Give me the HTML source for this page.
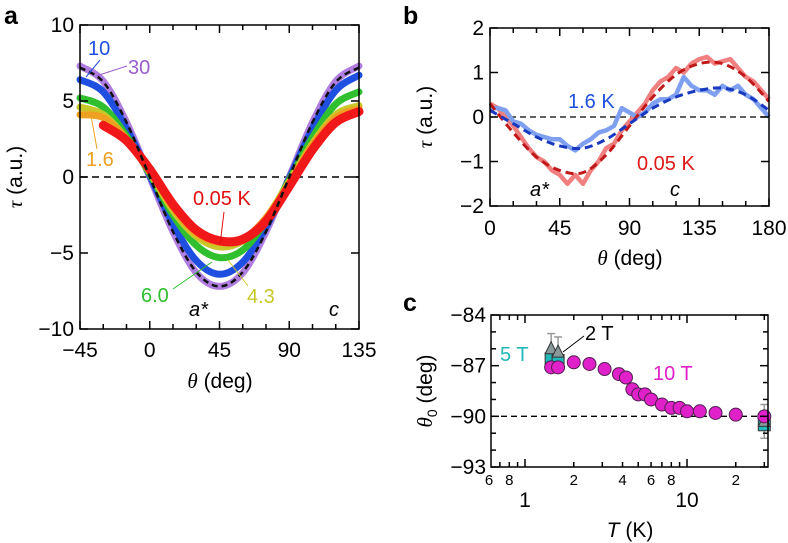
<!DOCTYPE html>
<html><head><meta charset="utf-8">
<style>
html,body{margin:0;padding:0;background:#fff;}
svg{display:block;font-family:"Liberation Sans",Arial,sans-serif;}
</style></head>
<body>
<svg id="fig" width="788" height="543" viewBox="0 0 788 543" xmlns="http://www.w3.org/2000/svg">
<g id="pa"></g>
<g id="pb"></g>
<g id="pc"></g>
</svg>
<script>
// ---------- Panel a data ----------
const aAngles = [-45,-30,-15,0,15,30,45,60,75,90,105,120,135];
const a30K  = [7.3,6.3,3.6,0,-3.6,-6.3,-7.2,-6.3,-3.6,0,3.6,6.3,7.3];
const a10K  = [6.4,5.6,3.2,0.1,-3.1,-5.5,-6.4,-5.6,-3.3,-0.1,3.2,5.7,6.7];
const a6K   = [5.2,4.6,2.7,0.2,-2.5,-4.5,-5.3,-4.8,-2.9,-0.2,2.6,4.8,5.6];
const a43K  = [4.6,4.1,2.5,0.3,-2.2,-3.9,-4.6,-4.2,-2.7,-0.3,2.2,4.1,4.7];
const a16K  = [4.1,3.9,2.5,0.4,-2.0,-3.7,-4.3,-4.1,-2.7,-0.4,2.1,3.9,4.5];
const a005K = [null,3.4,2.4,0.5,-1.8,-3.5,-4.2,-4.1,-2.9,-0.6,1.8,3.6,4.3];
const aFit  = [7.2,6.25,3.6,0,-3.6,-6.25,-7.2,-6.25,-3.6,0,3.6,6.25,7.2];
const aYTicks = [10,5,0,-5,-10];
const aYLabels = ["10","5","0","\u22125","\u221210"];
const aXTicks = [-45,0,45,90,135];
const aXLabels = ["\u221245","0","45","90","135"];
// ---------- Panel b data ----------
const bAngles = [0,5,10,15,20,25,30,35,40,45,50,55,60,65,70,75,80,85,90,95,100,105,110,115,120,125,130,135,140,145,150,155,160,165,170,175,180];
const bRed  = [0.3,0.2,0.0,-0.2,-0.45,-0.7,-0.9,-1.0,-1.2,-1.3,-1.5,-1.3,-1.5,-1.2,-1.0,-0.7,-0.6,-0.3,-0.1,0.1,0.3,0.6,0.8,0.9,1.1,1.0,1.2,1.3,1.35,1.2,1.25,1.3,1.1,0.9,0.8,0.6,0.4];
const bBlue = [0.2,0.2,0.15,-0.1,-0.15,-0.3,-0.4,-0.45,-0.5,-0.5,-0.65,-0.75,-0.6,-0.5,-0.35,-0.3,-0.2,0.2,0.1,0.0,0.1,0.3,0.4,0.4,0.5,0.9,0.7,0.6,0.6,0.5,0.7,0.6,0.7,0.5,0.4,0.2,0.0];
const bFitAngles = [0,15,30,45,60,75,90,105,120,135,150,165,180];
const bRedFit  = [0.3,-0.35,-0.9,-1.2,-1.25,-0.85,-0.2,0.45,0.95,1.2,1.2,0.9,0.35];
const bBlueFit = [0.15,-0.15,-0.45,-0.65,-0.7,-0.5,-0.15,0.2,0.45,0.6,0.65,0.5,0.15];
const bYTicks = [2,1,0,-1,-2];
const bYLabels = ["2","1","0","\u22121","\u22122"];
const bXTicks = [0,45,90,135,180];
const bXLabels = ["0","45","90","135","180"];
// ---------- Panel c data ----------
const c10T_T = [1.45,1.6,2.0,2.5,3.1,3.8,4.2,4.6,5.0,5.5,6.0,7.0,8.0,9.0,10,12,15,20,30];
const c10T_th = [-87.1,-87.1,-86.8,-86.9,-87.2,-87.5,-87.7,-88.4,-88.7,-88.7,-89.0,-89.3,-89.5,-89.5,-89.7,-89.7,-89.8,-89.9,-90.0];
const c5T_T = [1.45,1.6,30];
const c5T_th = [-86.6,-86.7,-90.5];
const c2T_T = [1.45,1.6,30];
const c2T_th = [-86.0,-86.2,-90.3];
const c2T_err = [0.9,0.9,1.0];
const cYTicks = [-84,-87,-90,-93];
const cYLabels = ["\u221284","\u221287","\u221290","\u221293"];

const NS = "http://www.w3.org/2000/svg";
function mk(parent, tag, attrs){
  const e = document.createElementNS(NS, tag);
  for (const k in attrs) e.setAttribute(k, attrs[k]);
  parent.appendChild(e); return e;
}
function lin(d0,d1,r0,r1){ return v => r0 + (v-d0)*(r1-r0)/(d1-d0); }
function smooth(pts){
  if (pts.length<2) return "";
  let d = "M"+pts[0][0].toFixed(1)+","+pts[0][1].toFixed(1);
  for (let i=0;i<pts.length-1;i++){
    const p0=pts[Math.max(0,i-1)], p1=pts[i], p2=pts[i+1], p3=pts[Math.min(pts.length-1,i+2)];
    const c1=[p1[0]+(p2[0]-p0[0])/6, p1[1]+(p2[1]-p0[1])/6];
    const c2=[p2[0]-(p3[0]-p1[0])/6, p2[1]-(p3[1]-p1[1])/6];
    d += "C"+c1.map(v=>v.toFixed(1))+" "+c2.map(v=>v.toFixed(1))+" "+p2[0].toFixed(1)+","+p2[1].toFixed(1);
  }
  return d;
}
function pts(xs, ys, X, Y){ const r=[]; xs.forEach((x,i)=>{ if(ys[i]!==null) r.push([X(x),Y(ys[i])]); }); return r; }
function txt(g, x, y, s, opts){
  const t = mk(g,"text",Object.assign({x:x,y:y,"font-size":21,fill:"#000"},opts||{}));
  t.textContent = s; return t;
}

// ================= Panel A =================
(function(){
  const g = document.getElementById("pa");
  const X = lin(-45,135,80,359), Y = lin(10,-10,25,329);
  const lbl = txt(g,4,24,"a",{"font-size":25,"font-weight":"bold"});
  
  
  const zero = mk(g,"line",{x1:80,x2:359,y1:Y(0),y2:Y(0),stroke:"#000","stroke-width":1.5,"stroke-dasharray":"7,5"});
  
  
  const series = [[a30K,"#b07ee0","series-30k"],[a10K,"#1f4fe0","series-10k"],[a6K,"#2fbf2f","series-6k"],[a43K,"#c8c828","series-4-3k"],[a16K,"#f0a020","series-1-6k"],[a005K,"#f01818","series-0-05k"]];
  series.forEach(s=>{
    const p = mk(g,"path",{d:smooth(pts(aAngles,s[0],X,Y)),fill:"none",stroke:s[1],"stroke-width":s[2]==="series-0-05k"?9:7,"stroke-linecap":"round"});
    
    
  });
  const fit = mk(g,"path",{d:smooth(pts(aAngles,aFit,X,Y)),fill:"none",stroke:"#111","stroke-width":2.5,"stroke-dasharray":"6,4"});
  
  
  const box = mk(g,"rect",{x:80,y:25,width:279,height:304,fill:"none",stroke:"#000","stroke-width":1.5});
  
  
  for (let v=-45; v<=135; v+=15){
    const L = (v%45===0)?8:5;
    mk(g,"line",{x1:X(v),x2:X(v),y1:329,y2:329-L,stroke:"#000","stroke-width":1.5});
    mk(g,"line",{x1:X(v),x2:X(v),y1:25,y2:25+L,stroke:"#000","stroke-width":1.5});
  }
  aYTicks.forEach((v,i)=>{
    mk(g,"line",{x1:80,x2:88,y1:Y(v),y2:Y(v),stroke:"#000","stroke-width":1.5});
    mk(g,"line",{x1:351,x2:359,y1:Y(v),y2:Y(v),stroke:"#000","stroke-width":1.5});
    const t = txt(g,74,Y(v)+7,aYLabels[i],{"text-anchor":"end"});
    
    
  });
  aXTicks.forEach((v,i)=>{
    const t = txt(g,X(v),357,aXLabels[i],{"text-anchor":"middle"});
    
    
  });
  const xt = txt(g,220,388,"",{"text-anchor":"middle"});
  xt.innerHTML = '<tspan font-family="Liberation Serif" font-style="italic">θ</tspan> (deg)';
  
  
  const yt = txt(g,0,0,"",{"text-anchor":"middle",transform:"translate(22,177) rotate(-90)"});
  yt.innerHTML = '<tspan font-family="Liberation Serif" font-style="italic">τ</tspan> (a.u.)';
  
  
  const ann = [["10",88,55,"#1f4fe0"],["30",128,74,"#9a5fd0"],["1.6",86,166,"#f0a020"],["0.05 K",193,205,"#e01010"],["6.0",141,302,"#2fbf2f"],["4.3",247,303,"#c8c828"]];
  ann.forEach(a=>{
    const t = txt(g,a[1],a[2],a[0],{fill:a[3],"font-size":20});
    
    
  });
  [[100,60,86,77,"#1f4fe0"],[127,66,96,76,"#9a5fd0"],[97,149,90,110,"#f0a020"],[224,212,220,245,"#e01010"],[173,289,212,262,"#2fbf2f"],[248,286,228,260,"#c8c828"]].forEach(l=>{
    const e = mk(g,"line",{x1:l[0],y1:l[1],x2:l[2],y2:l[3],stroke:l[4],"stroke-width":1});
    
    
  });
  const as = txt(g,189,316,"a*",{"font-style":"italic","font-size":20});
  
  
  const cl = txt(g,329,316,"c",{"font-style":"italic","font-size":20});
  
  
})();

// ================= Panel B =================
(function(){
  const g = document.getElementById("pb");
  const X = lin(0,180,490,769), Y = lin(2,-2,28,206);
  const lbl = txt(g,403,24,"b",{"font-size":25,"font-weight":"bold"});
  
  
  const zero = mk(g,"line",{x1:490,x2:769,y1:Y(0),y2:Y(0),stroke:"#000","stroke-width":1.3,"stroke-dasharray":"6,4"});
  
  
  const red = mk(g,"polyline",{points:pts(bAngles,bRed,X,Y).map(p=>p.join(",")).join(" "),fill:"none",stroke:"#f08080","stroke-width":4.5,"stroke-linejoin":"round"});
  
  
  const blue = mk(g,"polyline",{points:pts(bAngles,bBlue,X,Y).map(p=>p.join(",")).join(" "),fill:"none",stroke:"#7fa0f0","stroke-width":4.5,"stroke-linejoin":"round"});
  
  
  const rf = mk(g,"path",{d:smooth(pts(bFitAngles,bRedFit,X,Y)),fill:"none",stroke:"#c01818","stroke-width":3,"stroke-dasharray":"8,5"});
  
  
  const bf = mk(g,"path",{d:smooth(pts(bFitAngles,bBlueFit,X,Y)),fill:"none",stroke:"#1838c0","stroke-width":3,"stroke-dasharray":"8,5"});
  
  
  const box = mk(g,"rect",{x:490,y:28,width:279,height:178,fill:"none",stroke:"#000","stroke-width":1.5});
  
  
  for (let v=0; v<=180; v+=15){
    const L = (v%45===0)?8:5;
    mk(g,"line",{x1:X(v),x2:X(v),y1:206,y2:206-L,stroke:"#000","stroke-width":1.5});
    mk(g,"line",{x1:X(v),x2:X(v),y1:28,y2:28+L,stroke:"#000","stroke-width":1.5});
  }
  bYTicks.forEach((v,i)=>{
    mk(g,"line",{x1:490,x2:498,y1:Y(v),y2:Y(v),stroke:"#000","stroke-width":1.5});
    mk(g,"line",{x1:761,x2:769,y1:Y(v),y2:Y(v),stroke:"#000","stroke-width":1.5});
    const t = txt(g,484,Y(v)+7,bYLabels[i],{"text-anchor":"end"});
    
    
  });
  bXTicks.forEach((v,i)=>{
    const t = txt(g,X(v),235,bXLabels[i],{"text-anchor":"middle"});
    
    
  });
  const xt = txt(g,630,265,"",{"text-anchor":"middle"});
  xt.innerHTML = '<tspan font-family="Liberation Serif" font-style="italic">θ</tspan> (deg)';
  
  
  const yt = txt(g,0,0,"",{"text-anchor":"middle",transform:"translate(432,117) rotate(-90)"});
  yt.innerHTML = '<tspan font-family="Liberation Serif" font-style="italic">τ</tspan> (a.u.)';
  
  
  const l1 = txt(g,568,108,"1.6 K",{fill:"#2050e0","font-size":20});
  
  
  const l2 = txt(g,637,170,"0.05 K",{fill:"#e01818","font-size":20});
  
  
  const as = txt(g,530,196,"a*",{"font-style":"italic","font-size":20});
  
  
  const cl = txt(g,670,196,"c",{"font-style":"italic","font-size":20});
  
  
})();

// ================= Panel C =================
(function(){
  const g = document.getElementById("pc");
  const X = v => 525 + Math.log10(v)*162;
  const Y = lin(-84,-93,315,467);
  const lbl = txt(g,403,311,"c",{"font-size":25,"font-weight":"bold"});
  
  
  const dl = mk(g,"line",{x1:491,x2:768,y1:Y(-90),y2:Y(-90),stroke:"#000","stroke-width":1.3,"stroke-dasharray":"6,4"});
  
  
  c2T_T.forEach((t,i)=>{
    const x=X(t), e=c2T_err[i];
    const eb = mk(g,"line",{x1:x,x2:x,y1:Y(c2T_th[i]+e),y2:Y(c2T_th[i]-e),stroke:"#999","stroke-width":1.5});
    
    
    mk(g,"line",{x1:x-4,x2:x+4,y1:Y(c2T_th[i]+e),y2:Y(c2T_th[i]+e),stroke:"#999","stroke-width":1.5});
    mk(g,"line",{x1:x-4,x2:x+4,y1:Y(c2T_th[i]-e),y2:Y(c2T_th[i]-e),stroke:"#999","stroke-width":1.5});
  });
  c5T_T.forEach((t,i)=>{
    const r = mk(g,"rect",{x:X(t)-6,y:Y(c5T_th[i])-6,width:12,height:12,fill:"#20b8b8",stroke:"#333","stroke-width":1});
    
    
  });
  c2T_T.forEach((t,i)=>{
    const x=X(t), y=Y(c2T_th[i]);
    const p = mk(g,"polygon",{points:`${x},${y-7} ${x-6},${y+5} ${x+6},${y+5}`,fill:"#889999",stroke:"#333","stroke-width":1});
    
    
  });
  c10T_T.forEach((t,i)=>{
    const c = mk(g,"circle",{cx:X(t),cy:Y(c10T_th[i]),r:6.5,fill:"#e020c8",stroke:"#502050","stroke-width":1});
    
    
  });
  const box = mk(g,"rect",{x:491,y:315,width:277,height:152,fill:"none",stroke:"#000","stroke-width":1.5});
  
  
  for (let v=-84; v>=-93; v--){
    const L = (v%3===0)?8:5;
    mk(g,"line",{x1:491,x2:491+L,y1:Y(v),y2:Y(v),stroke:"#000","stroke-width":1.5});
    mk(g,"line",{x1:768-L,x2:768,y1:Y(v),y2:Y(v),stroke:"#000","stroke-width":1.5});
  }
  cYTicks.forEach((v,i)=>{
    const t = txt(g,486,Y(v)+7,cYLabels[i],{"text-anchor":"end"});
    
    
  });
  [0.7,0.8,0.9,1,2,3,4,5,6,7,8,9,10,20,30].forEach(v=>{
    const L = (v===1||v===10)?8:5;
    mk(g,"line",{x1:X(v),x2:X(v),y1:467,y2:467-L,stroke:"#000","stroke-width":1.5});
    mk(g,"line",{x1:X(v),x2:X(v),y1:315,y2:315+L,stroke:"#000","stroke-width":1.5});
  });
  [[0.6,"6"],[0.8,"8"],[2,"2"],[4,"4"],[6,"6"],[8,"8"],[20,"2"]].forEach(m=>{
    const t = txt(g,X(m[0]),485,m[1],{"text-anchor":"middle","font-size":15});
    
    
  });
  [[1,"1"],[10,"10"]].forEach(m=>{
    const t = txt(g,X(m[0]),507,m[1],{"text-anchor":"middle"});
    
    
  });
  const xt = txt(g,630,537,"",{"text-anchor":"middle"});
  xt.innerHTML = '<tspan font-style="italic">T</tspan> (K)';
  
  
  const yt = txt(g,0,0,"",{"text-anchor":"middle",transform:"translate(432,391) rotate(-90)"});
  yt.innerHTML = '<tspan font-family="Liberation Serif" font-style="italic">θ</tspan><tspan font-size="14" dy="5">0</tspan><tspan dy="-5"> (deg)</tspan>';
  
  
  const l5 = txt(g,500,361,"5 T",{fill:"#20b8b8","font-size":20});
  
  
  const l2 = txt(g,585,340,"2 T",{fill:"#000","font-size":20});
  
  
  const l10 = txt(g,653,380,"10 T",{fill:"#e020c8","font-size":20});
  
  
  const ln = mk(g,"line",{x1:584,y1:336,x2:563,y2:352,stroke:"#000","stroke-width":1});
  
  
})();
</script>
</body></html>
